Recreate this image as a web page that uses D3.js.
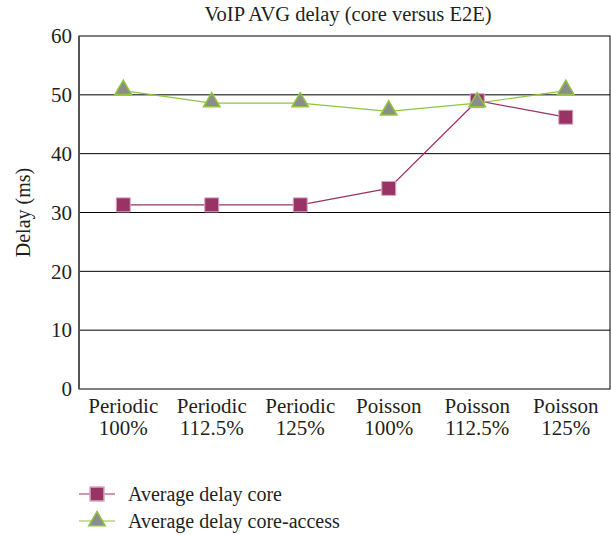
<!DOCTYPE html>
<html>
<head>
<meta charset="utf-8">
<script src="https://cdn.jsdelivr.net/npm/d3@7"></script>
<style>
  body { margin: 0; background: #fff; }
  .serif { font-family: 'Liberation Serif'; fill: #231f20; }
</style>
</head>
<body>
<svg id="chart" width="611" height="535"></svg>
<script>
const categories = ['Periodic|100%', 'Periodic|112.5%', 'Periodic|125%', 'Poisson|100%', 'Poisson|112.5%', 'Poisson|125%'];
const coreDelay = [31.3, 31.3, 31.3, 34.1, 49.0, 46.2];
const accessDelay = [50.7, 48.6, 48.6, 47.2, 48.6, 50.7];
const yTicks = [0, 10, 20, 30, 40, 50, 60];
const seriesNames = ['Average delay core', 'Average delay core-access'];

const svg = d3.select('#chart');
const margin = { top: 36, right: 1, bottom: 146, left: 79 };
const width = +svg.attr('width');
const height = +svg.attr('height');

const x = d3.scaleBand()
    .domain(categories)
    .range([margin.left, width - margin.right]);

const y = d3.scaleLinear()
    .domain([0, 60])
    .range([height - margin.bottom, margin.top]);

// gridlines
svg.append('g')
    .selectAll('line')
    .data(yTicks.slice(1, -1))
    .enter().append('line')
    .attr('x1', margin.left)
    .attr('x2', width - margin.right)
    .attr('y1', d => y(d))
    .attr('y2', d => y(d))
    .attr('stroke', '#000')
    .attr('stroke-width', 1);

// plot frame
svg.append('rect')
    .attr('x', margin.left)
    .attr('y', margin.top)
    .attr('width', width - margin.right - margin.left)
    .attr('height', y(0) - margin.top)
    .attr('fill', 'none')
    .attr('stroke', '#000')
    .attr('stroke-width', 1);

svg.append('line')
    .attr('x1', margin.left).attr('x2', margin.left)
    .attr('y1', margin.top).attr('y2', y(0))
    .attr('stroke', '#555')
    .attr('stroke-width', 2);

// y axis
const yAxis = svg.append('g')
    .attr('transform', `translate(${margin.left}, 0)`)
    .call(d3.axisLeft(y).tickValues(yTicks).tickSize(0).tickPadding(7));
yAxis.attr('font-family', null).attr('font-size', null);
yAxis.select('.domain').remove();
yAxis.selectAll('text')
    .attr('class', 'serif')
    .attr('font-size', 21);

// x axis labels (two lines)
const xLabels = svg.append('g')
    .selectAll('text')
    .data(categories)
    .enter().append('text')
    .attr('class', 'serif')
    .attr('x', d => x(d) + x.bandwidth() / 2)
    .attr('y', y(0) + 24)
    .attr('text-anchor', 'middle')
    .attr('font-size', 21);
xLabels.each(function (d) {
    const parts = d.split('|');
    const t = d3.select(this);
    t.append('tspan').attr('x', x(d) + x.bandwidth() / 2).text(parts[0]);
    t.append('tspan').attr('x', x(d) + x.bandwidth() / 2).attr('dy', 22).text(parts[1]);
});

// title
svg.append('text')
    .attr('class', 'serif')
    .attr('x', (margin.left + width) / 2 + 3)
    .attr('y', 21)
    .attr('text-anchor', 'middle')
    .attr('font-size', 20.5)
    .text('VoIP AVG delay (core versus E2E)');

// y label
svg.append('text')
    .attr('class', 'serif')
    .attr('transform', `translate(30, ${(margin.top + y(0)) / 2}) rotate(-90)`)
    .attr('text-anchor', 'middle')
    .attr('font-size', 20)
    .text('Delay (ms)');

const cx = (d, i) => x(categories[i]) + x.bandwidth() / 2;
const line = d3.line().x(cx).y(d => y(d));

svg.append('path')
    .datum(coreDelay)
    .attr('d', line)
    .attr('fill', 'none')
    .attr('stroke', '#993366')
    .attr('stroke-width', 1.2);

svg.append('path')
    .datum(accessDelay)
    .attr('d', line)
    .attr('fill', 'none')
    .attr('stroke', '#8dc63f')
    .attr('stroke-width', 1.2);

const square = d3.symbol().type(d3.symbolSquare).size(196);
const triangle = d3.symbol().type(d3.symbolTriangle).size(118);

svg.append('g')
    .selectAll('path')
    .data(coreDelay)
    .enter().append('path')
    .attr('d', square)
    .attr('transform', (d, i) => `translate(${cx(d, i)}, ${y(d)})`)
    .attr('fill', '#993366')
    .attr('stroke', '#d8a9c0')
    .attr('stroke-width', 1);

svg.append('g')
    .selectAll('path')
    .data(accessDelay)
    .enter().append('path')
    .attr('d', triangle)
    .attr('transform', (d, i) => `translate(${cx(d, i)}, ${y(d) - 1})`)
    .attr('fill', '#8c8c8c')
    .attr('stroke', '#8dc63f')
    .attr('stroke-width', 1.5);

// legend
const legend = svg.append('g');
const legendRows = [
    { name: seriesNames[0], color: '#993366', sym: square, fill: '#993366', stroke: '#d8a9c0', y: 494 },
    { name: seriesNames[1], color: '#8dc63f', sym: triangle, fill: '#8c8c8c', stroke: '#8dc63f', y: 521 }
];
legendRows.forEach(r => {
    legend.append('line')
        .attr('x1', 79).attr('x2', 115)
        .attr('y1', r.y).attr('y2', r.y)
        .attr('stroke', r.color).attr('stroke-width', 1.2);
    legend.append('path')
        .attr('d', r.sym)
        .attr('transform', `translate(97, ${r.y})`)
        .attr('fill', r.fill)
        .attr('stroke', r.stroke)
        .attr('stroke-width', 1.5);
    legend.append('text')
        .attr('class', 'serif')
        .attr('x', 128)
        .attr('y', r.y + 7)
        .attr('font-size', 20)
        .text(r.name);
});
</script>
</body>
</html>
